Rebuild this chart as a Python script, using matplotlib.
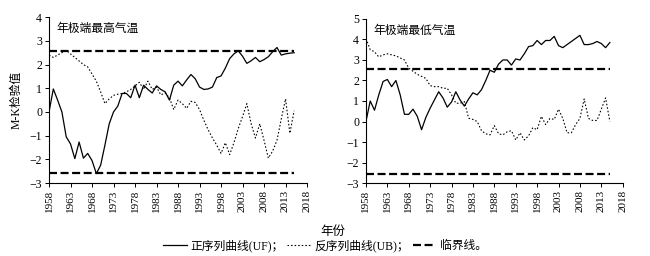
import numpy as np
import matplotlib
matplotlib.use("Agg")
import matplotlib.pyplot as plt
from matplotlib.lines import Line2D

plt.rcParams['font.family'] = ['Liberation Serif', 'Noto Sans CJK SC']
plt.rcParams['axes.unicode_minus'] = True

years = list(range(1958, 2016))

# 年极端最高气温
tmax_uf = [0, 0.97, 0.5, 0, -1.05, -1.35, -1.97, -1.27, -1.95, -1.75,
           -2.05, -2.6, -2.25, -1.4, -0.5, 0, 0.25, 0.78, 0.78, 0.6,
           1.13, 0.6, 1.13, 0.95, 0.8, 1.1, 0.95, 0.85, 0.5, 1.13,
           1.3, 1.1, 1.35, 1.58, 1.4, 1.05, 0.95, 0.97, 1.05, 1.45,
           1.52, 1.85, 2.25, 2.45, 2.58, 2.35, 2.05, 2.16, 2.3, 2.12,
           2.21, 2.33, 2.54, 2.72, 2.4, 2.45, 2.48, 2.5]
tmax_ub = [2.4, 2.3, 2.4, 2.5, 2.6, 2.45, 2.3, 2.15, 2.0, 1.9,
           1.6, 1.3, 0.85, 0.35, 0.55, 0.7, 0.75, 0.78, 0.85, 0.95,
           1.1, 1.25, 0.95, 1.3, 0.95, 1.05, 0.72, 0.8, 0.6, 0.1,
           0.5, 0.35, 0.15, 0.45, 0.4, 0.1, -0.35, -0.75, -1.1, -1.4,
           -1.75, -1.3, -1.8, -1.3, -0.7, -0.2, 0.35, -0.5, -1.1, -0.5,
           -1.2, -1.95, -1.65, -1.2, -0.3, 0.55, -0.9, 0.05]

# 年极端最低气温
tmin_uf = [0.0, 1.0, 0.55, 1.3, 1.95, 2.05, 1.7, 2.0, 1.3, 0.35,
           0.35, 0.6, 0.25, -0.4, 0.2, 0.65, 1.05, 1.45, 1.15, 0.7,
           0.95, 1.45, 1.05, 0.75, 1.1, 1.4, 1.3, 1.55, 2.0, 2.5,
           2.4, 2.8, 3.0, 3.0, 2.75, 3.05, 3.0, 3.3, 3.65, 3.7,
           3.95, 3.75, 3.95, 3.95, 4.15, 3.7, 3.6, 3.75, 3.9, 4.05,
           4.2, 3.75, 3.75, 3.8, 3.9, 3.8, 3.6, 3.85]
tmin_ub = [4.05, 3.5, 3.4, 3.15, 3.25, 3.3, 3.25, 3.2, 3.1, 3.0,
           2.6, 2.45, 2.3, 2.2, 2.1, 1.75, 1.7, 1.7, 1.62, 1.62,
           1.3, 0.89, 0.89, 0.97, 0.16, 0.1, 0.0, -0.45, -0.6, -0.65,
           -0.2, -0.6, -0.65, -0.5, -0.45, -0.9, -0.55, -0.9, -0.7, -0.3,
           -0.4, 0.25, -0.15, 0.15, 0.1, 0.6, 0.15, -0.55, -0.55, -0.15,
           0.15, 1.1, 0.15, 0.05, 0.05, 0.6, 1.15, 0.0]

critical = 2.58
titles = ["年极端最高气温", "年极端最低气温"]
ylims = [(-3, 4), (-3, 5)]
xticks = list(range(1958, 2019, 5))

fig = plt.figure(figsize=(6.5, 2.56), dpi=100)
ax1 = fig.add_axes([0.0754, 0.285, 0.397, 0.648])
ax2 = fig.add_axes([0.563, 0.285, 0.395, 0.641])

for ax, uf, ub, title, yl in zip([ax1, ax2], [tmax_uf, tmin_uf], [tmax_ub, tmin_ub], titles, ylims):
    ax.plot(years, uf, color="black", lw=0.9)
    ax.plot(years, ub, color="black", lw=0.8, dashes=(1.4, 1.8))
    ax.plot([years[0], years[-1]], [critical, critical], color="black", lw=1.6, dashes=(3.6, 1.6))
    ax.plot([years[0], years[-1]], [-critical, -critical], color="black", lw=1.6, dashes=(3.6, 1.6))
    ax.set_xlim(1958, 2018)
    ax.set_ylim(*yl)
    ax.set_xticks(xticks)
    ax.set_xticklabels([str(x) for x in xticks], rotation=90, fontsize=8)
    ax.set_yticks(range(yl[0], yl[1] + 1))
    ax.tick_params(axis="y", labelsize=8.5, length=3, width=0.7, pad=2)
    ax.tick_params(axis="x", length=3, width=0.7, pad=2)
    ax.spines["top"].set_visible(False)
    ax.spines["right"].set_visible(False)
    ax.spines["left"].set_linewidth(0.8)
    ax.spines["bottom"].set_linewidth(0.8)
    ax.text(0.03, 0.965, title, transform=ax.transAxes, fontsize=8.5, va="top", ha="left")

ax1.set_ylabel("M-K检验值", fontsize=8.5, labelpad=5)

fig.text(0.512, 0.095, "年份", ha="center", va="center", fontsize=9)

handles = [Line2D([], [], color="black", lw=0.9),
           Line2D([], [], color="black", lw=0.8, dashes=(1.4, 1.8)),
           Line2D([], [], color="black", lw=1.6, dashes=(3.6, 1.6))]
labels = ["正序列曲线(UF)；", "反序列曲线(UB)；", "临界线。"]
fig.legend(handles, labels, loc="center", bbox_to_anchor=(0.5, 0.04), ncol=3, frameon=False,
           fontsize=8.5, handlelength=2.0, handletextpad=0.3, columnspacing=0.3)

fig.savefig("out.png", dpi=100)
